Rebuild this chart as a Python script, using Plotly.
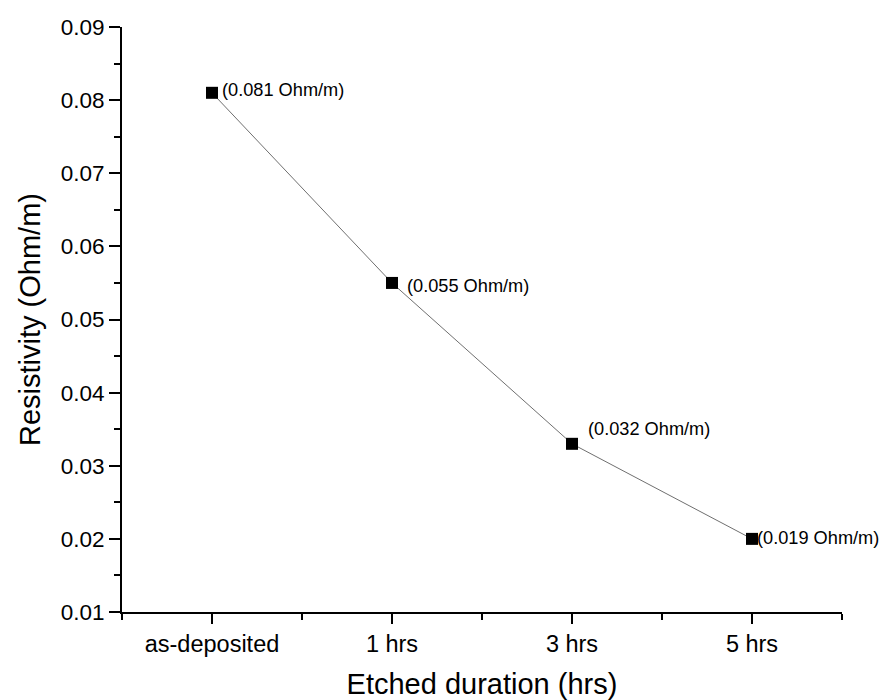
import plotly.graph_objects as go

categories = ["as-deposited", "1 hrs", "3 hrs", "5 hrs"]
resistivity = [0.081, 0.055, 0.033, 0.020]
labels = ["(0.081 Ohm/m)", "(0.055 Ohm/m)", "(0.032 Ohm/m)", "(0.019 Ohm/m)"]
y_ticks = [0.01, 0.02, 0.03, 0.04, 0.05, 0.06, 0.07, 0.08, 0.09]

x_idx = list(range(len(categories)))
FONT = "Liberation Sans, Arial, sans-serif"

fig = go.Figure()
fig.add_trace(go.Scatter(
    x=x_idx, y=resistivity, mode="lines+markers",
    line=dict(color="#4a4a4a", width=0.8),
    marker=dict(symbol="square", size=12, color="black"),
    showlegend=False, hoverinfo="skip",
))

shifts = [(8, 3), (13, -3), (14, 15), (3, 1)]
for i, (lab, (dx, dy)) in enumerate(zip(labels, shifts)):
    fig.add_annotation(x=x_idx[i], y=resistivity[i], text=lab, showarrow=False,
                       xanchor="left", yanchor="middle", xshift=dx, yshift=dy,
                       font=dict(family=FONT, size=18.2, color="black"))

fig.update_layout(
    width=879, height=692,
    margin=dict(l=114, r=45, t=19, b=88),
    paper_bgcolor="white", plot_bgcolor="white",
    font=dict(family=FONT, color="black"),
)
fig.update_xaxes(
    range=[-0.5, 3.5], tickmode="array", tickvals=x_idx, ticktext=categories,
    showline=True, linecolor="black", linewidth=2, mirror=False,
    ticks="outside", ticklen=10, tickwidth=2, tickcolor="black",
    tickfont=dict(family=FONT, size=23.5),
    minor=dict(tickmode="linear", tick0=-0.5, dtick=1, ticks="outside", ticklen=6, tickwidth=2, tickcolor="black", showgrid=False),
    showgrid=False, zeroline=False, automargin=False,
    title=dict(text="Etched duration (hrs)", font=dict(family=FONT, size=29), standoff=22),
)
fig.update_yaxes(
    range=[0.01, 0.09], tickmode="array", tickvals=y_ticks,
    tickformat=".2f",
    showline=True, linecolor="black", linewidth=2, mirror=False,
    ticks="outside", ticklen=11, tickwidth=2, tickcolor="black",
    tickfont=dict(family=FONT, size=22.5),
    minor=dict(tickmode="linear", tick0=0.005, dtick=0.01, ticks="outside", ticklen=6, tickwidth=2, tickcolor="black", showgrid=False),
    showgrid=False, zeroline=False, automargin=False,
    title=dict(text="Resistivity (Ohm/m)", font=dict(family=FONT, size=29), standoff=12),
)

fig.write_html("out.html")
